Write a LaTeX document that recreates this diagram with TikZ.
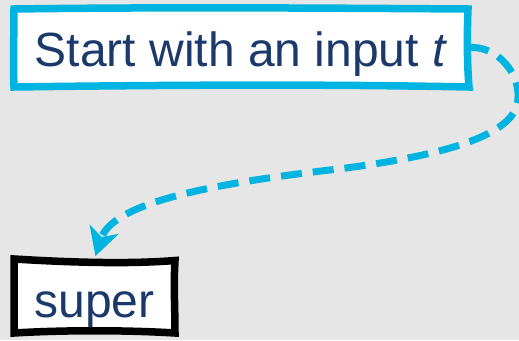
\documentclass[tikz,border=0pt]{standalone}
\usepackage{fontspec}
\setmainfont{Liberation Sans}
\usetikzlibrary{arrows.meta}
\definecolor{bggray}{RGB}{230,230,230}
\definecolor{skycyan}{RGB}{0,180,225}
\definecolor{navytext}{RGB}{27,57,107}
\tikzset{
  boxstyle/.style={rectangle, fill=white, draw=none, inner sep=0pt, outer sep=0pt,
    text=navytext, font=\fontsize{48}{50}\selectfont, text depth=0pt},
  handborder/.style={line width=7.5pt, line join=miter},
  flowarrow/.style={draw=skycyan, line width=7pt, dash pattern=on 21pt off 11pt,
    shorten >=3pt, -{Stealth[length=28pt,width=30pt,inset=8pt]}}
}
\begin{document}
\begin{tikzpicture}[x=1pt,y=-1pt]
\useasboundingbox[fill=bggray] (0,0) rectangle (519,340);
\node[boxstyle, minimum width=454pt, minimum height=77pt, text height=37pt]
  (start) at (241,47.5) {Start with an input \textit{t}};
\draw[handborder, draw=skycyan]
  (start.north west) .. controls +(150,-2) and +(-150,-1) .. (start.north east)
  .. controls +(-1,25) and +(-2,-25) .. ([xshift=1pt,yshift=-1pt]start.south east)
  .. controls +(-150,-3) and +(150,-2) .. ([yshift=-1pt]start.south west)
  .. controls +(-1,-25) and +(0,25) .. cycle;
\node[boxstyle, minimum width=161pt, minimum height=74pt, text height=42pt]
  (super) at (94.5,296) {super};
\draw[handborder, draw=black]
  (super.north west) .. controls +(50,3) and +(-50,4) .. ([yshift=-1.5pt]super.north east)
  .. controls +(-1.5,25) and +(0,-25) .. (super.south east)
  .. controls +(-50,-3) and +(50,-3) .. (super.south west)
  -- cycle;
\draw[flowarrow] (start.east) .. controls (505,45) and (528,88) .. (514,112)
  .. controls (498,140) and (430,158) .. (330,170)
  .. controls (200,185) and (112,205) .. (super.north);
\end{tikzpicture}
\end{document}
